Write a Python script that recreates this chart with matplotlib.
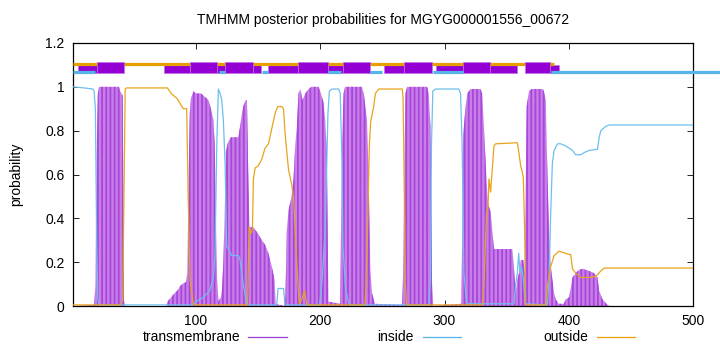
import matplotlib.pyplot as plt
from matplotlib.lines import Line2D

plt.rcParams['font.family'] = ['Liberation Sans', 'DejaVu Sans']
plt.rcParams['hatch.linewidth'] = 1.3

title = "TMHMM posterior probabilities for MGYG000001556_00672"

# posterior curves, (position, probability)
tm_pts = [(1, 0.0), (18, 0.005), (19, 0.09), (20, 0.68), (21, 0.97), (22, 1.0), (38, 1.0), (39, 0.98),
          (41, 0.96), (42, 0.03), (43, 0.0), (76, 0.0), (77, 0.02), (80, 0.04), (83, 0.06), (85, 0.07),
          (87, 0.09), (89, 0.10), (92, 0.11), (93, 0.15), (94, 0.55), (95, 0.88), (96, 0.95), (98, 0.98),
          (100, 0.97), (104, 0.97), (106, 0.96), (108, 0.95), (110, 0.94), (112, 0.90), (114, 0.85),
          (115, 0.74), (116, 0.40), (117, 0.12), (118, 0.02), (120, 0.04), (121, 0.08), (122, 0.20),
          (123, 0.40), (124, 0.70), (125, 0.73), (126, 0.75), (128, 0.77), (134, 0.77), (135.5, 0.82),
          (137, 0.88), (138, 0.91), (140, 0.94), (141, 0.94), (142, 0.62), (143, 0.36), (146, 0.36),
          (150, 0.33), (153, 0.30), (155.6, 0.28), (158.3, 0.24), (161, 0.18), (163.2, 0.12),
          (164.2, 0.01), (171, 0.0), (172, 0.04), (173, 0.34), (174.5, 0.44), (176.6, 0.49),
          (178.5, 0.58), (179.8, 0.73), (181.2, 0.82), (182.5, 0.97), (184, 0.99), (185.7, 0.94),
          (188, 0.97), (190.6, 0.99), (193, 1.0), (198.6, 1.0), (200, 0.98), (202.6, 0.93), (204, 0.85),
          (205.3, 0.70), (206.6, 0.02), (216, 0.01), (217.5, 0.73), (218.8, 0.97), (220, 1.0),
          (233.5, 1.0), (235, 0.97), (237.6, 0.85), (239, 0.58), (240.3, 0.17), (241.6, 0.06),
          (244, 0.01), (266, 0.005), (266.6, 0.13), (267.5, 0.55), (268.5, 0.97), (270, 1.0), (286, 1.0),
          (287.3, 0.97), (288.7, 0.82), (290, 0.10), (291, 0.0), (313.5, 0.01), (314.2, 0.30),
          (315, 0.78), (317, 0.91), (318.3, 0.97), (321, 0.99), (329, 0.99), (330.3, 0.97),
          (331.7, 0.82), (333.9, 0.56), (335, 0.47), (337.1, 0.43), (339.8, 0.26), (354.6, 0.26),
          (355.9, 0.17), (357.3, 0.06), (358.6, 0.12), (360, 0.15), (361.3, 0.21), (363.4, 0.21),
          (364.5, 0.15), (366.1, 0.91), (368, 0.98), (370, 0.99), (379, 0.99), (380, 0.98),
          (381.5, 0.94), (382.8, 0.61), (384.1, 0.35), (385.5, 0.18), (388.2, 0.06), (389.5, 0.03),
          (392, 0.01), (396, 0.01), (397.6, 0.03), (400.3, 0.04), (403, 0.13), (405.6, 0.15),
          (408.3, 0.165), (411, 0.17), (416.4, 0.16), (420.4, 0.15), (423.1, 0.13), (424.5, 0.07),
          (427.2, 0.03), (431.2, 0.005), (433, 0.0), (500, 0.0)]

inside_pts = [(1, 1.0), (10, 0.995), (17, 0.99), (18, 0.98), (19, 0.90), (20, 0.32), (21, 0.03),
              (22, 0.005), (98, 0.005), (100, 0.02), (106, 0.04), (111, 0.07), (114, 0.13),
              (115.3, 0.24), (116.7, 0.73), (118, 0.99), (119.4, 0.97), (120.7, 0.94), (122, 0.85),
              (123.4, 0.65), (124.7, 0.27), (126.1, 0.26), (128.8, 0.23), (134.2, 0.23), (135.5, 0.21),
              (138.2, 0.09), (140.9, 0.01), (142, 0.005), (165, 0.005), (166, 0.08), (170.5, 0.08),
              (171.5, 0.01), (172.5, 0.005), (199.5, 0.005), (201.5, 0.12), (204, 0.35), (206.2, 0.88),
              (207.3, 0.98), (209.4, 0.99), (214.8, 0.99), (216.1, 0.97), (217.5, 0.65), (218.3, 0.27),
              (220.2, 0.09), (222.9, 0.01), (224, 0.005), (287.3, 0.005), (288.7, 0.12), (289.5, 0.73),
              (290.6, 0.98), (292.7, 0.99), (311.5, 0.99), (312.9, 0.97), (314.2, 0.73), (315.6, 0.15),
              (317.7, 0.02), (319, 0.01), (355.9, 0.01), (357.3, 0.10), (358.6, 0.15), (359.7, 0.24),
              (360.8, 0.15), (362, 0.18), (363.5, 0.12), (365, 0.01), (382.8, 0.005), (384.1, 0.12),
              (385.5, 0.43), (386.8, 0.65), (388.2, 0.71), (390.9, 0.74), (393.5, 0.74), (397.6, 0.73),
              (400.3, 0.72), (403, 0.71), (405.6, 0.69), (409.7, 0.69), (412.4, 0.70), (416.4, 0.71),
              (423.1, 0.715), (424.5, 0.77), (425.8, 0.80), (429.8, 0.82), (432.5, 0.826), (500, 0.826)]

outside_pts = [(1, 0.005), (38, 0.005), (40, 0.01), (41, 0.03), (42, 0.5), (43, 0.99), (44, 0.995),
               (77, 0.995), (80, 0.97), (85, 0.945), (87.6, 0.92), (89.8, 0.90), (92.5, 0.90),
               (93.8, 0.47), (95.2, 0.12), (97.8, 0.01), (99, 0.005), (141.5, 0.005), (142.7, 0.36),
               (144.3, 0.33), (145.4, 0.35), (146.2, 0.58), (147.6, 0.63), (150.2, 0.64), (152.9, 0.67),
               (155.6, 0.72), (158.3, 0.74), (161, 0.81), (163.7, 0.88), (165.8, 0.91), (169, 0.91),
               (170.4, 0.90), (171.8, 0.78), (174.5, 0.62), (177.2, 0.55), (178.5, 0.49), (179.8, 0.35),
               (181.2, 0.18), (183.1, 0.01), (185.2, 0.03), (187.3, 0.07), (189.2, 0.005), (236, 0.005),
               (236.8, 0.09), (238.4, 0.43), (239.5, 0.73), (240.6, 0.84), (241.6, 0.87), (243, 0.91),
               (244.4, 0.97), (247, 0.99), (266, 0.99), (266.6, 0.95), (267.2, 0.73), (268.5, 0.10),
               (269.4, 0.01), (270, 0.005), (330.3, 0.005), (331.7, 0.09), (333.9, 0.43), (335, 0.45),
               (335.8, 0.58), (337.1, 0.52), (338.4, 0.62), (339.8, 0.73), (341.1, 0.74), (358.6, 0.745),
               (359.1, 0.73), (361.3, 0.64), (363.4, 0.59), (364.5, 0.35), (365.3, 0.01), (366, 0.005),
               (381.5, 0.005), (382.8, 0.09), (385.5, 0.18), (388.2, 0.23), (392.2, 0.25), (397.6, 0.24),
               (401.6, 0.234), (403, 0.17), (405.6, 0.15), (409.7, 0.13), (416.4, 0.13), (421.8, 0.135),
               (425.8, 0.16), (428.5, 0.173), (500, 0.173)]

# topology bars above the plot (start, end)
tm_bars = [(20, 42), (95, 117), (123, 146), (182, 206), (218, 240), (267, 290), (315, 337), (365, 385)]
tm_bars_low = [(5, 20), (74, 95), (117, 123), (146, 152), (158, 182), (206, 218), (251, 267),
               (293, 315), (337, 358), (385, 392)]
outside_bar = (1, 388)
inside_bars = [(1, 19), (118.5, 123.4), (153, 158), (206.5, 217), (240, 250), (291, 314.5), (385.5, 540)]

c_tm = '#9400d3'
c_in = '#56b4e9'
c_out = '#e69f00'

fig = plt.figure(figsize=(7.2, 3.52), dpi=100)
ax = fig.add_axes([73/720, 1-306/352, 620/720, 263/352])

x, y = zip(*tm_pts)
ax.fill_between(x, 0, y, facecolor='#c77ee8', edgecolor='#a947da', hatch='||||', linewidth=0, zorder=2)
x, y = zip(*inside_pts)
ax.plot(x, y, color='#6cbfee', lw=0.9, zorder=3)
x, y = zip(*outside_pts)
ax.plot(x, y, color='#e8a31a', lw=0.9, zorder=3)

# top bars
ax.hlines(1.106, outside_bar[0], outside_bar[1], color=c_out, lw=2.3, zorder=3, clip_on=False)
ax.broken_barh([(a, b - a) for a, b in tm_bars_low], (1.063, 0.037), facecolor=c_tm,
               edgecolor='#c070e8', lw=0.5, zorder=2, clip_on=False)
ax.broken_barh([(a, b - a) for a, b in tm_bars], (1.063, 0.051), facecolor=c_tm,
               edgecolor='#c070e8', lw=0.5, zorder=4, clip_on=False)
for a, b in inside_bars:
    ax.hlines(1.066, a, b, color=c_in, lw=2.3, zorder=5, clip_on=False)

ax.set_xlim(1, 500)
ax.set_ylim(0, 1.2)
ax.set_xticks([100, 200, 300, 400, 500])
ax.set_yticks([0, 0.2, 0.4, 0.6, 0.8, 1, 1.2])
ax.set_yticklabels(['0', '0.2', '0.4', '0.6', '0.8', '1', '1.2'])
ax.tick_params(direction='in', top=True, right=True, labelsize=10, length=4, width=0.6, pad=6)
for s in ax.spines.values():
    s.set_linewidth(0.9)

ax.set_ylabel('probability', fontsize=10, labelpad=16)
fig.text(383/720, 1-20/352, title, ha='center', va='center', fontsize=10)

# legend in gnuplot style: label then line sample
legend_items = [('transmembrane', '#9b3fd2', 240, 248, 287),
                ('inside', c_in, 414, 423, 461),
                ('outside', c_out, 588, 597, 635)]
ly = 1 - 337/352
for label, col, tx, x0, x1 in legend_items:
    fig.text(tx/720, ly, label, ha='right', va='center', fontsize=10)
    fig.add_artist(Line2D([x0/720, x1/720], [ly, ly], color=col, lw=0.9))

fig.savefig('out.png', dpi=100)
